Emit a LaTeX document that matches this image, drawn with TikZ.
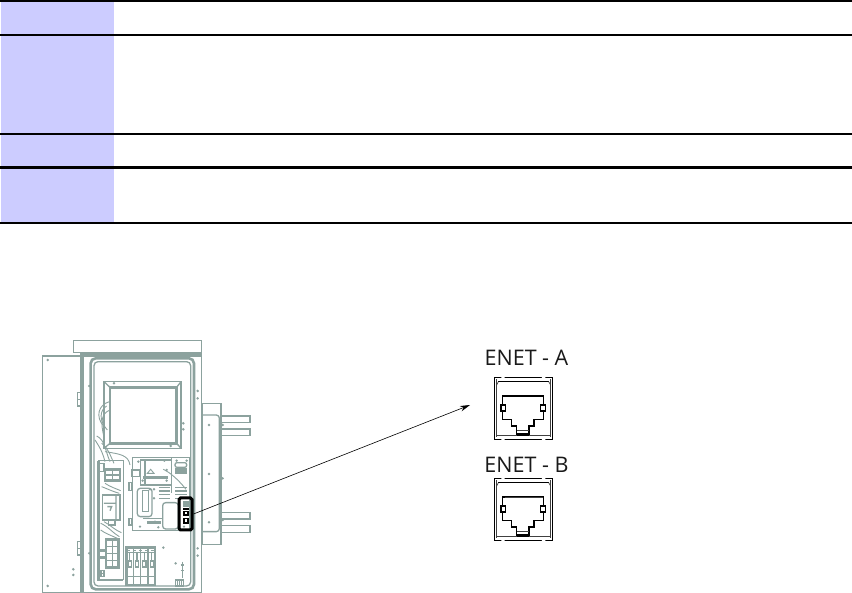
\documentclass[tikz,border=0pt]{standalone}
\usepackage{fontspec}
\setmainfont{Open Sans}
\usetikzlibrary{arrows.meta}
\definecolor{head}{HTML}{CCCCFF}
\definecolor{cab}{HTML}{8CA29E}
\tikzset{
  headcell/.style={fill=head,draw=none},
  rule/.style={draw=black,line width=1.7pt},
  thickrule/.style={draw=black,line width=2.8pt},
  cabline/.style={draw=cab,line width=1.3pt},
  cabthick/.style={draw=cab,line width=2.6pt},
  cabfine/.style={draw=cab,line width=.9pt},
  dot/.style={fill=cab,draw=none},
  jack/.style={draw=black,line width=1.2pt},
  jackfine/.style={draw=black!75,line width=.7pt},
  enet/.style={font=\fontsize{21.5}{24}\selectfont,inner sep=0pt,text=black!90},
  callout/.style={draw=black,line width=.6pt,-{Stealth[length=10pt,width=5.5pt]}},
  highlight/.style={draw=black,line width=3pt,rounded corners=1.5pt,inner sep=0pt,minimum width=13pt,minimum height=32pt}
}
\newcommand{\jackbody}[1]{%
  \begin{scope}[shift={(460,#1)},x=.3333pt,y=-.3333pt]
    \draw[jack] (103,112) rectangle (278,298);
    \draw[jackfine] (110,118) -- (110,292) (270,118) -- (270,292);
    \draw[jack] (115,125) -- (266,125);
    \draw[jackfine] (115,125) -- (110,135) (266,125) -- (272,135);
    \draw[jackfine] (110,285) -- (270,285);
    \fill[white] (124,109) rectangle (134,115) (246,109) rectangle (256,115) (124,295) rectangle (134,301) (246,295) rectangle (256,301);
    \draw[jack] (127,168) -- (251,168) -- (251,238) -- (222,238) -- (222,258) -- (207,258) -- (207,282) -- (170,282) -- (170,258) -- (155,258) -- (155,238) -- (127,238) -- cycle;
    \draw[jack,fill=white] (123,195) rectangle (137,213) (241,195) rectangle (256,213);
    \draw[jackfine] (170,272) -- (207,272);
    \fill[black] (170,282) rectangle (207,288);
  \end{scope}}
\begin{document}
\begin{tikzpicture}[x=1pt,y=-1pt]
\useasboundingbox (0,0) rectangle (852,593);
% table
\fill[headcell] (1,0) rectangle (114,222);
\draw[rule] (0,1) -- (852,1);
\draw[rule] (0,34.8) -- (852,34.8);
\draw[rule] (0,134) -- (852,134);
\draw[thickrule] (0,167.2) -- (852,167.2);
\draw[rule] (0,222.8) -- (852,222.8);
% cabinet, in the coordinates of a 3x crop
\begin{scope}[shift={(30,330)},x=.3333pt,y=-.3333pt]
  \draw[cabline] (130,32) rectangle (515,68);
  \fill[cab] (150,68) rectangle (515,80);
  \draw[cabline] (38,78) rectangle (152,788);
  \draw[cabline] (152,72) -- (515,72) -- (515,788) -- (38,788);
  \fill[cab] (150,72) rectangle (162,788);
  \draw[cabthick,rounded corners=5pt] (182,85) rectangle (492,778);
  \draw[cabline,rounded corners=4pt] (192,95) rectangle (482,768);
  \draw[cabline] (142,188) rectangle (155,228) (142,635) rectangle (155,675);
  \draw[cabfine] (142,208) -- (155,208) (142,655) -- (155,655);
  \foreach \p in {(53,90),(53,768),(130,718),(130,735),(178,168),(178,670),(503,183),(503,205),(503,655),(503,677),(460,280),(460,298),(422,348),(252,160),(400,653),(437,700),(537,285),(537,432),(537,577),(578,285),(578,445),(578,570)}
    \fill[dot] \p circle (4.2);
  % window
  \draw[cabline] (222,155) rectangle (453,355);
  \draw[cabthick] (240,172) rectangle (440,340);
  \draw[cabline] (222,155) -- (240,172) (453,155) -- (440,172) (222,355) -- (240,340) (453,355) -- (440,340);
  % flange and pipes
  \draw[cabline] (518,220) rectangle (573,643);
  \draw[cabline,rounded corners=3pt] (515,255) -- (568,255) -- (568,605) -- (515,605);
  \foreach \y in {258,297,547,587}{
    \draw[cabline] (573,\y) -- (657,\y) (573,\y+20) -- (657,\y+20);
    \fill[cab] (656,\y-2) rectangle (662,\y+22);
  }
  % wires
  \draw[cabfine] (238,215) .. controls (205,225) and (195,260) .. (222,290);
  \draw[cabfine] (230,228) .. controls (210,240) and (205,270) .. (232,300);
  \draw[cabfine] (240,240) .. controls (215,250) and (210,275) .. (222,320);
  \draw[cabfine] (200,318) .. controls (225,330) and (225,360) .. (240,395);
  \draw[cabfine] (215,340) .. controls (235,355) and (240,375) .. (252,400);
  \draw[cabfine] (195,330) .. controls (215,360) and (220,375) .. (225,395);
  \draw[cabfine] (225,365) .. controls (270,372) and (295,375) .. (300,405);
  % left column of breakers
  \draw[cabthick] (205,392) -- (205,750) -- (280,750);
  \draw[cabline] (205,392) -- (280,392) -- (280,750);
  \draw[cabline] (205,400) rectangle (222,425);
  \draw[cabthick] (225,418) rectangle (270,452);
  \draw[cabline] (247,418) -- (247,452) (225,435) -- (270,435);
  \draw[cabline] (218,495) rectangle (270,570);
  \draw[cabline] (222,520) -- (258,520) (258,495) -- (258,570) (232,530) -- (245,530) -- (240,542);
  \draw[cabfine] (215,470) .. controls (240,480) and (250,485) .. (268,490);
  \draw[cabfine] (225,460) .. controls (240,470) and (255,475) .. (272,482);
  \draw[cabfine] (212,580) .. controls (235,590) and (250,610) .. (268,620);
  \draw[cabfine] (222,575) .. controls (240,585) and (255,600) .. (274,608);
  \draw[cabfine] (212,600) .. controls (225,610) and (240,615) .. (262,625);
  \draw[cabline] (235,570) rectangle (255,585);
  \draw[cabthick] (228,628) rectangle (265,712);
  \draw[cabline] (247,628) -- (247,712) (228,650) -- (265,650) (228,670) -- (265,670) (228,692) -- (265,692);
  \draw[cabthick] (208,662) -- (228,662) (208,682) -- (228,682);
  \draw[cabline] (204,722) rectangle (222,740);
  \draw[cabline] (204,731) -- (222,731) (213,722) -- (213,740);
  % controller board
  \draw[cabline] (307,382) rectangle (478,602);
  \draw[cabline] (425,385) -- (425,490);
  \draw[cabline] (332,390) rectangle (425,465);
  \draw[cabline] (345,390) -- (345,465);
  \draw[cabthick] (340,442) -- (415,442);
  \draw[cabline] (305,420) rectangle (328,440);
  \draw[cabfine] (352,430) -- (362,418) -- (372,430) -- cycle;
  \draw[cabline,rounded corners=3pt] (322,475) rectangle (366,560);
  \draw[cabline] (338,482) rectangle (356,545);
  \draw[cabline] (297,458) rectangle (306,482);
  \draw[cabline] (297,565) rectangle (306,585);
  \draw[cabline,rounded corners=3pt] (398,518) rectangle (445,597);
  \foreach \y in {472,483,494,505}{
    \draw[cabline] (386,\y) -- (420,\y);
    \draw[cabline] (436,\y) -- (470,\y);
  }
  \fill[cab] (435,415) rectangle (470,432);
  \draw[cabline,rounded corners=2pt] (435,398) rectangle (470,412);
  \draw[cabfine] (400,418) .. controls (425,430) and (450,455) .. (468,478);
  \draw[cabline] (340,565) -- (395,565);
  \draw[cabthick] (352,578) -- (392,578);
  \foreach \p in {(325,395),(345,392),(403,392),(440,392),(470,392),(338,452),(410,452),(410,420),(360,478),(372,505),(372,478),(330,590),(385,592),(375,575),(462,590)}
    \fill[dot] \p circle (4);
  % terminal block
  \draw[cabthick] (290,652) rectangle (375,765);
  \draw[cabline] (290,668) -- (375,668) (290,740) -- (375,740);
  \foreach \x in {310,332,354}{
    \draw[cabline] (\x,652) -- (\x,765);
  }
  \foreach \x in {293,315,337,359}{
    \fill[cab] (\x,690) rectangle (\x+13,715);
    \fill[white] (\x+3,695) rectangle (\x+9,708);
    \draw[cabline] (\x+6,670) -- (\x+6,690);
  }
  \draw[cabfine,dashed] (290,660) -- (375,660);
  % small parts on the right
  \draw[cabline] (457,695) -- (457,745);
  \draw[cabline] (452,705) -- (462,705) (452,722) -- (462,722);
  \draw[cabline] (437,750) rectangle (460,768);
  \draw[cabline] (443,750) -- (443,768) (449,750) -- (449,768) (455,750) -- (455,768);
  % ports inside highlight
  \fill[cab] (458,512) rectangle (480,530);
  \fill[black] (460,535) rectangle (476,540);
  \fill[black] (460,542) rectangle (476,558);
  \fill[white] (465,547) rectangle (471,553);
  \fill[black] (460,563) rectangle (476,582);
  \fill[white] (465,568) rectangle (471,576);
\end{scope}
\node[highlight] (hl) at (185.5,514) {};
\coordinate (tip) at (470,405);
\draw[callout] (hl.east) -- (tip);
\node[enet] (labelA) at (526.5,357.5) {ENET - A};
\node[enet] (labelB) at (526.5,465) {ENET - B};
\jackbody{340}
\jackbody{441}
\draw[jackfine] (505,497) -- (543,497);
\end{tikzpicture}
\end{document}
